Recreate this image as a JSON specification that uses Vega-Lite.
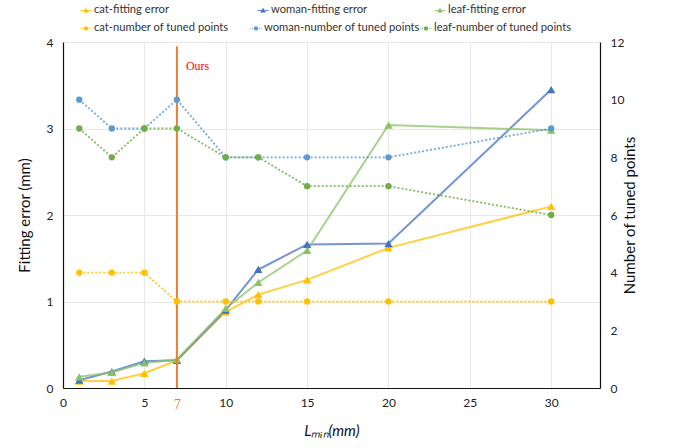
{
  "$schema": "https://vega.github.io/schema/vega-lite/v6.json",
  "autosize": "none",
  "width": 537,
  "height": 346,
  "padding": {"left": 63, "top": 42, "right": 75, "bottom": 60},
  "background": "white",
  "config": {
    "view": {"stroke": null},
    "font": "Lato",
    "axis": {"labelFont": "Lato", "titleFont": "Lato", "labelColor": "#222", "titleColor": "#111", "domainColor": "#111", "ticks": false, "labelFontSize": 12, "titleFontSize": 15, "titleFontWeight": "normal"},
    "legend": {"labelFont": "Lato", "labelFontSize": 11.2, "labelColor": "#333", "labelOffset": 2, "labelLimit": 300, "symbolSize": 130, "symbolStrokeWidth": 0, "title": null, "orient": "none", "direction": "horizontal", "columns": 3, "gridAlign": "all"}
  },
  "datasets": {
    "err": [
      {"L": 1, "series": "cat-fitting error", "value": 0.08},
      {"L": 3, "series": "cat-fitting error", "value": 0.08},
      {"L": 5, "series": "cat-fitting error", "value": 0.17},
      {"L": 7, "series": "cat-fitting error", "value": 0.32},
      {"L": 10, "series": "cat-fitting error", "value": 0.88},
      {"L": 12, "series": "cat-fitting error", "value": 1.08},
      {"L": 15, "series": "cat-fitting error", "value": 1.25},
      {"L": 20, "series": "cat-fitting error", "value": 1.62},
      {"L": 30, "series": "cat-fitting error", "value": 2.1},
      {"L": 1, "series": "woman-fitting error", "value": 0.09},
      {"L": 3, "series": "woman-fitting error", "value": 0.19},
      {"L": 5, "series": "woman-fitting error", "value": 0.31},
      {"L": 7, "series": "woman-fitting error", "value": 0.32},
      {"L": 10, "series": "woman-fitting error", "value": 0.9},
      {"L": 12, "series": "woman-fitting error", "value": 1.37},
      {"L": 15, "series": "woman-fitting error", "value": 1.66},
      {"L": 20, "series": "woman-fitting error", "value": 1.67},
      {"L": 30, "series": "woman-fitting error", "value": 3.45},
      {"L": 1, "series": "leaf-fitting error", "value": 0.13},
      {"L": 3, "series": "leaf-fitting error", "value": 0.18},
      {"L": 5, "series": "leaf-fitting error", "value": 0.29},
      {"L": 7, "series": "leaf-fitting error", "value": 0.33},
      {"L": 10, "series": "leaf-fitting error", "value": 0.92},
      {"L": 12, "series": "leaf-fitting error", "value": 1.22},
      {"L": 15, "series": "leaf-fitting error", "value": 1.59},
      {"L": 20, "series": "leaf-fitting error", "value": 3.04},
      {"L": 30, "series": "leaf-fitting error", "value": 2.98}
    ],
    "pts": [
      {"L": 1, "series": "cat-number of tuned points", "value": 4},
      {"L": 3, "series": "cat-number of tuned points", "value": 4},
      {"L": 5, "series": "cat-number of tuned points", "value": 4},
      {"L": 7, "series": "cat-number of tuned points", "value": 3},
      {"L": 10, "series": "cat-number of tuned points", "value": 3},
      {"L": 12, "series": "cat-number of tuned points", "value": 3},
      {"L": 15, "series": "cat-number of tuned points", "value": 3},
      {"L": 20, "series": "cat-number of tuned points", "value": 3},
      {"L": 30, "series": "cat-number of tuned points", "value": 3},
      {"L": 1, "series": "woman-number of tuned points", "value": 10},
      {"L": 3, "series": "woman-number of tuned points", "value": 9},
      {"L": 5, "series": "woman-number of tuned points", "value": 9},
      {"L": 7, "series": "woman-number of tuned points", "value": 10},
      {"L": 10, "series": "woman-number of tuned points", "value": 8},
      {"L": 12, "series": "woman-number of tuned points", "value": 8},
      {"L": 15, "series": "woman-number of tuned points", "value": 8},
      {"L": 20, "series": "woman-number of tuned points", "value": 8},
      {"L": 30, "series": "woman-number of tuned points", "value": 9},
      {"L": 1, "series": "leaf-number of tuned points", "value": 9},
      {"L": 3, "series": "leaf-number of tuned points", "value": 8},
      {"L": 5, "series": "leaf-number of tuned points", "value": 9},
      {"L": 7, "series": "leaf-number of tuned points", "value": 9},
      {"L": 10, "series": "leaf-number of tuned points", "value": 8},
      {"L": 12, "series": "leaf-number of tuned points", "value": 8},
      {"L": 15, "series": "leaf-number of tuned points", "value": 7},
      {"L": 20, "series": "leaf-number of tuned points", "value": 7},
      {"L": 30, "series": "leaf-number of tuned points", "value": 6}
    ],
    "ann": [{"L": 7, "y0": 0, "y1": 3.95, "ty": 3.72, "text": "Ours"}]
  },
  "encoding": {
    "x": {
      "field": "L", "type": "quantitative",
      "scale": {"domain": [0, 33], "nice": false, "zero": false},
      "axis": {
        "title": "Lₘᵢₙ(mm)",
        "titleFontStyle": "italic",
        "titlePadding": 12,
        "values": [0, 5, 7, 10, 15, 20, 25, 30],
        "labelPadding": 9,
        "labelFlush": false,
        "labelColor": {"condition": {"test": "datum.value == 7", "value": "#ED7D31"}, "value": "#222"},
        "labelFont": {"condition": {"test": "datum.value == 7", "value": "Liberation Serif"}, "value": "Lato"},
        "labelFontSize": {"condition": {"test": "datum.value == 7", "value": 14}, "value": 12},
        "grid": true,
        "gridColor": "#E8E8E8",
        "gridOpacity": {"condition": {"test": "datum.value == 7 || datum.value == 0", "value": 0}, "value": 1},
        "domainWidth": 1.2
      }
    }
  },
  "layer": [
    {
      "layer": [
        {
          "data": {"name": "err"},
          "mark": {"type": "line", "strokeWidth": 2, "opacity": 0.75},
          "encoding": {
            "y": {"field": "value", "type": "quantitative"},
            "color": {"field": "series", "type": "nominal"}
          }
        },
        {
          "data": {"name": "err"},
          "mark": {"type": "point", "shape": "triangle-up", "filled": true, "opacity": 1, "size": 70},
          "encoding": {
            "y": {"field": "value", "type": "quantitative"},
            "color": {"field": "series", "type": "nominal"}
          }
        },
        {
          "data": {"name": "ann"},
          "mark": {"type": "rule", "color": "#ED7D31", "strokeWidth": 2},
          "encoding": {
            "y": {"field": "y0", "type": "quantitative"},
            "y2": {"field": "y1"},
            "color": null
          }
        },
        {
          "data": {"name": "ann"},
          "mark": {"type": "text", "align": "left", "baseline": "middle", "dx": 9, "color": "#FF0000", "font": "Liberation Serif", "fontSize": 12},
          "encoding": {
            "y": {"field": "ty", "type": "quantitative"},
            "text": {"field": "text"},
            "color": null
          }
        }
      ],
      "encoding": {
        "y": {
          "type": "quantitative",
          "scale": {"domain": [0, 4], "nice": false},
          "axis": {"title": "Fitting error (mm)", "values": [0, 1, 2, 3, 4], "orient": "left", "grid": true, "gridColor": "#E8E8E8", "labelPadding": 10, "titlePadding": 14, "domainWidth": 1.2}
        },
        "color": {
          "field": "series", "type": "nominal",
          "scale": {
            "domain": ["cat-fitting error", "woman-fitting error", "leaf-fitting error"],
            "range": ["#FFC000", "#4472C4", "#8CC168"]
          },
          "legend": {
            "legendX": 17,
            "legendY": -38,
            "columnPadding": 66,
            "symbolType": "M-1,-0.06H1V0.08H-1Z M-0.5,0.38L0,-0.48L0.5,0.38Z",
            "symbolOpacity": 1
          }
        }
      }
    },
    {
      "layer": [
        {
          "data": {"name": "pts"},
          "mark": {"type": "line", "strokeWidth": 1.8, "strokeDash": [2, 2], "opacity": 0.85},
          "encoding": {
            "y": {"field": "value", "type": "quantitative"},
            "color": {"field": "series", "type": "nominal"}
          }
        },
        {
          "data": {"name": "pts"},
          "mark": {"type": "point", "shape": "circle", "filled": true, "opacity": 1, "size": 40},
          "encoding": {
            "y": {"field": "value", "type": "quantitative"},
            "color": {"field": "series", "type": "nominal"}
          }
        }
      ],
      "encoding": {
        "y": {
          "type": "quantitative",
          "scale": {"domain": [0, 12], "nice": false},
          "axis": {"title": "Number of tuned points", "values": [0, 2, 4, 6, 8, 10, 12], "orient": "right", "grid": false, "labelPadding": 10, "titlePadding": 14, "titleAngle": -90, "titleBaseline": "bottom", "domainWidth": 1.2}
        },
        "color": {
          "field": "series", "type": "nominal",
          "scale": {
            "domain": ["cat-number of tuned points", "woman-number of tuned points", "leaf-number of tuned points"],
            "range": ["#FFC000", "#5B9BD5", "#70AD47"]
          },
          "legend": {
            "legendX": 17,
            "legendY": -20,
            "columnPadding": 0,
            "symbolType": "M-1,-0.06H-0.8V0.06H-1Z M-0.68,-0.06H-0.5V0.06H-0.68Z M0.5,-0.06H0.68V0.06H0.5Z M0.8,-0.06H1V0.06H0.8Z M0.38,0A0.38,0.38 0 1 1 -0.38,0A0.38,0.38 0 1 1 0.38,0Z",
            "symbolOpacity": 1
          }
        }
      }
    }
  ],
  "resolve": {"scale": {"y": "independent", "color": "independent"}}
}
